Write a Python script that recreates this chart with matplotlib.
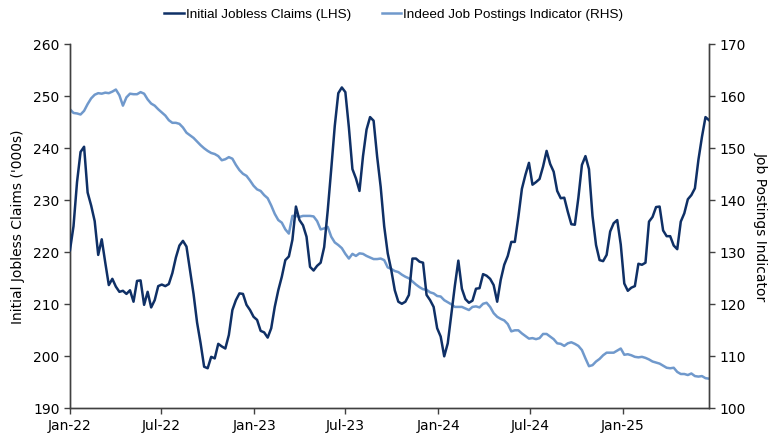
import matplotlib
matplotlib.use("Agg")
from matplotlib import pyplot as plt
from matplotlib import font_manager
import matplotlib.dates as mdates
import pandas as pd

matplotlib.rcParams.update({
    'font.family': 'DejaVu Sans',
    'font.size': 10,
})

# weekly observations, week ending Saturdays
start_date = '2022-01-01'

# initial jobless claims, thousands (LHS)
claims = [
    220.4, 225.0, 233.5, 239.3, 240.3, 231.5, 229.0, 226.0, 219.5, 222.5,
    218.0, 213.7, 214.9, 213.4, 212.4, 212.6, 212.0, 212.7, 210.5, 214.5,
    214.6, 209.9, 212.4, 209.4, 210.8, 213.5, 213.8, 213.5, 213.9, 216.0,
    219.0, 221.3, 222.2, 221.1, 216.5, 212.0, 206.5, 202.5, 198.0, 197.7,
    199.9, 199.6, 202.4, 201.9, 201.5, 204.1, 208.9, 210.8, 212.1, 212.0,
    209.9, 208.9, 207.6, 207.0, 204.9, 204.6, 203.6, 205.4, 209.5, 212.7,
    215.3, 218.5, 219.2, 222.4, 228.8, 226.2, 225.2, 223.0, 217.2, 216.5,
    217.4, 218.0, 221.0, 228.0, 236.0, 244.3, 250.6, 251.7, 250.8, 244.0,
    236.0, 234.2, 231.8, 238.5, 243.6, 246.0, 245.3, 238.4, 232.6, 225.0,
    219.8, 216.6, 212.7, 210.5, 210.1, 210.5, 211.8, 218.8, 218.8, 218.2,
    218.0, 211.8, 210.8, 209.5, 205.4, 203.8, 200.0, 202.5, 208.0, 213.5,
    218.4, 213.0, 211.0, 210.3, 210.7, 213.0, 213.1, 215.8, 215.5, 214.9,
    213.7, 210.5, 214.7, 217.6, 219.3, 222.0, 222.0, 226.8, 232.2, 234.9,
    237.2, 233.0, 233.5, 234.1, 236.5, 239.5, 237.0, 235.5, 231.8, 230.4,
    230.5, 227.8, 225.4, 225.3, 230.5, 236.8, 238.5, 236.0, 227.0, 221.4,
    218.5, 218.3, 219.5, 224.0, 225.6, 226.2, 221.5, 214.0, 212.6, 213.2,
    213.5, 217.8, 217.6, 218.0, 225.9, 226.8, 228.7, 228.8, 224.2, 223.1,
    223.1, 221.3, 220.6, 225.9, 227.5, 230.2, 231.0, 232.3, 237.8, 242.2,
    246.0, 245.4,
]

# Indeed job postings index (RHS)
postings = [
    157.5, 156.8, 156.7, 156.5, 157.2, 158.5, 159.6, 160.3, 160.6, 160.5,
    160.7, 160.6, 160.9, 161.3, 160.2, 158.2, 159.8, 160.5, 160.4, 160.4,
    160.8, 160.5, 159.4, 158.6, 158.2, 157.5, 156.9, 156.3, 155.4, 154.9,
    154.9, 154.7, 154.0, 153.0, 152.5, 152.0, 151.3, 150.6, 150.0, 149.5,
    149.1, 148.9, 148.5, 147.7, 147.9, 148.3, 148.0, 146.8, 145.8, 145.1,
    144.7, 143.8, 142.8, 142.1, 141.8, 141.0, 140.4, 139.0, 137.4, 136.2,
    135.7, 134.4, 133.6, 137.0, 137.0, 136.8, 137.0, 137.0, 137.0, 136.9,
    136.0, 134.4, 134.6, 134.9, 133.0, 131.9, 131.4, 130.8, 129.7, 128.8,
    129.7, 129.3, 129.8, 129.7, 129.3, 129.0, 128.7, 128.7, 128.8, 128.5,
    127.1, 126.8, 126.4, 126.2, 125.7, 125.3, 125.0, 124.4, 123.8, 123.3,
    122.9, 122.8, 122.3, 122.1, 121.6, 121.5, 120.8, 120.4, 120.0, 119.5,
    119.5, 119.5, 119.2, 118.9, 119.5, 119.6, 119.4, 120.1, 120.3, 119.5,
    118.3, 117.6, 117.2, 116.9, 116.2, 114.8, 115.0, 115.0, 114.4, 113.9,
    113.4, 113.5, 113.3, 113.5, 114.3, 114.3, 113.8, 113.3, 112.5, 112.4,
    112.0, 112.5, 112.7, 112.4, 112.0, 111.2, 109.6, 108.1, 108.3, 109.0,
    109.5, 110.2, 110.7, 110.7, 110.7, 111.1, 111.5, 110.3, 110.4, 110.2,
    109.9, 109.8, 109.9, 109.7, 109.4, 109.0, 108.8, 108.6, 108.2, 107.8,
    107.7, 107.8, 107.0, 106.6, 106.6, 106.4, 106.7, 106.2, 106.1, 106.2,
    105.8, 105.7,
]

dates = pd.date_range(start_date, periods=len(claims), freq='7D')

navy = '#0f3066'
light = '#7099cc'
spine_col = '#404040'

# narrow face for the legend, if there is one
installed = {f.name for f in font_manager.fontManager.ttflist}
legend_family = 'Liberation Sans Narrow' if 'Liberation Sans Narrow' in installed else 'Liberation Sans'

fig = plt.figure(figsize=(7.8, 4.42), dpi=100)
ax = fig.add_axes([0.0897, 0.0762, 0.8193, 0.8236])
ax2 = ax.twinx()

l1, = ax.plot(dates, claims, color=navy, lw=1.8, zorder=3, label='Initial Jobless Claims (LHS)')
l2, = ax2.plot(dates, postings, color=light, lw=1.8, zorder=2, label='Indeed Job Postings Indicator (RHS)')
ax.set_zorder(ax2.get_zorder() + 1)
ax.patch.set_visible(False)

ax.set_ylim(190, 260)
ax2.set_ylim(100, 170)
ax.set_xlim(dates[0], dates[-1])
ax.set_yticks(range(190, 261, 10))
ax2.set_yticks(range(100, 171, 10))

ticks = pd.date_range('2022-01-01', '2025-01-01', freq='6MS')
ax.set_xticks(ticks)
ax.xaxis.set_major_formatter(mdates.DateFormatter('%b-%y'))

for a in (ax, ax2):
    a.spines['top'].set_visible(False)
    for s in ('left', 'right', 'bottom'):
        a.spines[s].set_color(spine_col)
        a.spines[s].set_linewidth(1.0)
    a.tick_params(colors='black', labelsize=10, length=4, width=1.0, color=spine_col)

ax.set_ylabel("Initial Jobless Claims ('000s)", fontsize=10, labelpad=6)
ax2.set_ylabel('Job Postings Indicator', fontsize=10, rotation=-90, labelpad=16)

leg = fig.legend(handles=[l1, l2], loc='upper center', bbox_to_anchor=(0.505, 1.01),
                 ncol=2, frameon=False, handlelength=1.4, handletextpad=0.15,
                 columnspacing=2.2, prop={'family': legend_family, 'size': 10})

# size the legend text so the first label is about 165 px wide, as in the source
fig.canvas.draw()
w = leg.get_texts()[0].get_window_extent().width
for t in leg.get_texts():
    t.set_fontsize(10 * 165 / w)

fig.savefig('out.png', dpi=100)
